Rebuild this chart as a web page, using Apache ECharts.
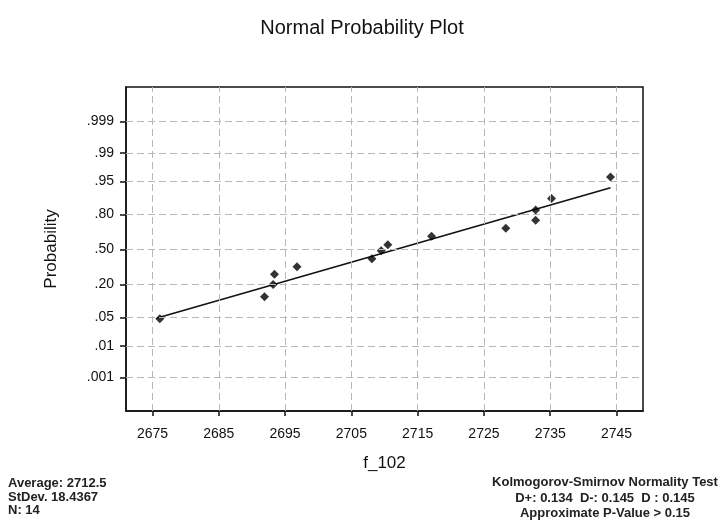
<!DOCTYPE html>
<html><head><meta charset="utf-8">
<script src="https://cdn.jsdelivr.net/npm/echarts@6/dist/echarts.min.js"></script>
<style>html,body{margin:0;padding:0;background:#fff}#c{width:724px;height:525px}</style>
</head><body><div id="c"></div>
<script>
// data
const xValues = [2676.1, 2691.9, 2693.2, 2693.4, 2696.8, 2708.1, 2709.5, 2710.5, 2717.1, 2728.3, 2732.8, 2732.8, 2735.2, 2744.1];
const probValues = [0.047, 0.127, 0.198, 0.274, 0.337, 0.41, 0.486, 0.546, 0.625, 0.695, 0.76, 0.83, 0.89, 0.96];
const fitX = [2675.7, 2744.1];
const fitP = [0.049, 0.932];
const xTicks = [2675, 2685, 2695, 2705, 2715, 2725, 2735, 2745];
const probTicks = [0.001, 0.01, 0.05, 0.20, 0.50, 0.80, 0.95, 0.99, 0.999];
const probTickLabels = ['.001', '.01', '.05', '.20', '.50', '.80', '.95', '.99', '.999'];
const titleText = 'Normal Probability Plot';
const xName = 'f_102';
const yName = 'Probability';
const statsLeft = ['Average: 2712.5', 'StDev. 18.4367', 'N: 14'];
const statsRight = ['Kolmogorov-Smirnov Normality Test', 'D+: 0.134  D-: 0.145  D : 0.145', 'Approximate P-Value > 0.15'];

// normal quantile (probit) scale transform
function probit(p) {
  const a = [-3.969683028665376e+01, 2.209460984245205e+02, -2.759285104469687e+02, 1.383577518672690e+02, -3.066479806614716e+01, 2.506628277459239e+00];
  const b = [-5.447609879822406e+01, 1.615858368580409e+02, -1.556989798598866e+02, 6.680131188771972e+01, -1.328068155288572e+01];
  const c = [-7.784894002430293e-03, -3.223964580411365e-01, -2.400758277161838e+00, -2.549732539343734e+00, 4.374664141464968e+00, 2.938163982698783e+00];
  const d = [7.784695709041462e-03, 3.224671290700398e-01, 2.445134137142996e+00, 3.754408661907416e+00];
  const pl = 0.02425, ph = 1 - pl;
  let q, r;
  if (p < pl) { q = Math.sqrt(-2 * Math.log(p)); return (((((c[0]*q+c[1])*q+c[2])*q+c[3])*q+c[4])*q+c[5]) / ((((d[0]*q+d[1])*q+d[2])*q+d[3])*q+1); }
  if (p <= ph) { q = p - 0.5; r = q*q; return (((((a[0]*r+a[1])*r+a[2])*r+a[3])*r+a[4])*r+a[5])*q / (((((b[0]*r+b[1])*r+b[2])*r+b[3])*r+b[4])*r+1); }
  q = Math.sqrt(-2 * Math.log(1 - p)); return -(((((c[0]*q+c[1])*q+c[2])*q+c[3])*q+c[4])*q+c[5]) / ((((d[0]*q+d[1])*q+d[2])*q+d[3])*q+1);
}
const zTicks = probTicks.map(probit);
function labelFor(v) {
  let best = 0;
  zTicks.forEach((z, i) => { if (Math.abs(z - v) < Math.abs(zTicks[best] - v)) best = i; });
  return probTickLabels[best];
}

const gridLine = { color: '#b8b8b8', width: 1, type: [7, 4] };
const font = 'Liberation Sans, Arial, sans-serif';
const chart = echarts.init(document.getElementById('c'), null, { renderer: 'canvas' });
chart.setOption({
  animation: false,
  backgroundColor: '#fff',
  title: { text: titleText, left: 'center', top: 13, textStyle: { fontFamily: font, fontSize: 20, fontWeight: 'normal', color: '#111' } },
  grid: { left: 126, right: 81, top: 87, bottom: 114, show: true, borderColor: '#111', borderWidth: 1.5, backgroundColor: 'transparent' },
  xAxis: {
    type: 'value', min: 2671, max: 2749,
    name: xName, nameLocation: 'middle', nameGap: 44,
    nameTextStyle: { fontFamily: font, fontSize: 17, color: '#111' },
    axisLine: { show: true, onZero: false, lineStyle: { color: '#111', width: 1.5 } },
    axisTick: { show: true, customValues: xTicks, length: 5, lineStyle: { color: '#111', width: 1.5 } },
    axisLabel: { customValues: xTicks, margin: 16, fontFamily: font, fontSize: 14, color: '#111', formatter: v => String(v) },
    splitLine: { show: false }
  },
  yAxis: {
    type: 'value', min: -3.9, max: 3.92,
    name: yName, nameLocation: 'middle', nameGap: 66, nameRotate: 90,
    nameTextStyle: { fontFamily: font, fontSize: 17, color: '#111' },
    axisLine: { show: true, onZero: false, lineStyle: { color: '#111', width: 1.5 } },
    axisTick: { show: true, customValues: zTicks, length: 6, lineStyle: { color: '#111', width: 1.5 } },
    axisLabel: { customValues: zTicks, margin: 12, fontFamily: font, fontSize: 14, color: '#111', formatter: labelFor },
    splitLine: { show: false }
  },
  series: [
    {
      type: 'line', data: [], silent: true,
      markLine: {
        silent: true, symbol: 'none', label: { show: false }, lineStyle: gridLine,
        data: xTicks.map(v => ({ xAxis: v })).concat(zTicks.map(v => ({ yAxis: v })))
      }
    },
    {
      type: 'line', data: fitX.map((x, i) => [x, probit(fitP[i])]),
      showSymbol: false, symbol: 'none', lineStyle: { color: '#111', width: 1.6 }, z: 3
    },
    {
      type: 'scatter', data: xValues.map((x, i) => [x, probit(probValues[i])]),
      symbol: 'diamond', symbolSize: 9, itemStyle: { color: '#000' }, z: 4
    }
  ],
  graphic: [
    { type: 'text', x: 8, y: 477, style: { text: statsLeft.join('\n'), font: 'bold 13px ' + font, fill: '#222', lineHeight: 13.5 } },
    { type: 'text', x: 605, y: 475, style: { text: statsRight.join('\n'), font: 'bold 13px ' + font, fill: '#222', lineHeight: 15.5, textAlign: 'center', align: 'center' } }
  ]
});
</script></body></html>
